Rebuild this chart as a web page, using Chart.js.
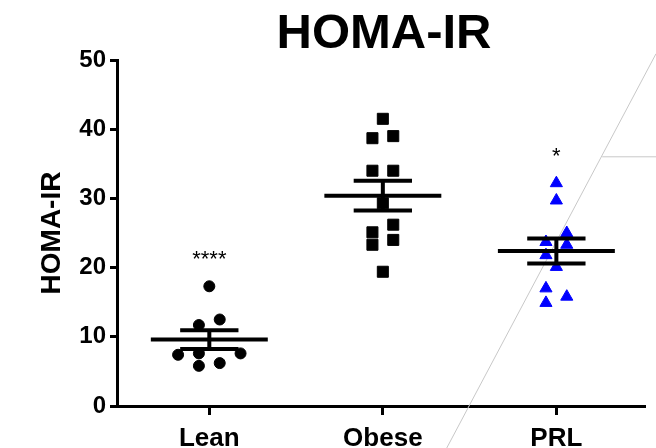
<!DOCTYPE html>
<html><head><meta charset="utf-8">
<script src="https://cdn.jsdelivr.net/npm/chart.js@4/dist/chart.umd.min.js"></script>
<style>html,body{margin:0;padding:0;background:#fff;}</style>
</head><body>
<canvas id="c" width="656" height="448"></canvas>
<script>
// ---- data ----
const categories = ['Lean', 'Obese', 'PRL'];
const leanValues  = [17.3, 12.5, 11.7, 7.4, 7.6, 7.6, 5.8, 6.2];
const leanJitter  = [0, 0.06, -0.06, -0.18, -0.06, 0.18, -0.06, 0.06];
const obeseValues = [41.5, 38.7, 39.0, 34.0, 34.0, 29.3, 26.2, 25.1, 24.0, 23.3, 19.4];
const obeseJitter = [0, -0.06, 0.06, -0.06, 0.06, 0, 0.06, -0.06, 0.06, -0.06, 0];
const prlValues   = [32.2, 29.7, 25.0, 23.3, 23.7, 21.8, 20.1, 17.0, 15.8, 14.9];
const prlJitter   = [0, 0, 0.06, 0.06, -0.06, -0.06, 0, -0.06, 0.06, -0.06];
const groupMeans  = [9.6, 30.4, 22.4];
const groupSEM    = [1.35, 2.15, 1.8];
const significance = ['****', '', '*'];
const yTicks = [0, 10, 20, 30, 40, 50];

const FONT = "'Liberation Sans', Arial, Helvetica, sans-serif";
Chart.defaults.font.family = FONT;
Chart.defaults.color = '#000';

function pointsDataset(vals, jit, i, style, color, r) {
  return {
    type: 'scatter',
    data: vals.map((v, k) => ({ x: i + jit[k], y: v })),
    pointStyle: style, pointRadius: r, pointHoverRadius: r,
    backgroundColor: color, borderColor: color, pointBorderWidth: 1,
    order: 2
  };
}

const barData = [];
groupMeans.forEach((m, i) => {
  const s = groupSEM[i];
  barData.push(
    { x: i - 0.337, y: m }, { x: i + 0.337, y: m }, { x: i, y: null },
    { x: i - 0.168, y: m + s }, { x: i + 0.168, y: m + s }, { x: i, y: null },
    { x: i - 0.168, y: m - s }, { x: i + 0.168, y: m - s }, { x: i, y: null },
    { x: i, y: m - s }, { x: i, y: m + s }, { x: i, y: null }
  );
});

const allGroups = [leanValues, obeseValues, prlValues];

const decor = {
  id: 'decor',
  beforeDatasetsDraw(chart) {
    const ctx = chart.ctx, W = chart.width, H = chart.height;
    ctx.save();
    ctx.strokeStyle = '#c8c8c8';
    ctx.lineWidth = 1;
    ctx.beginPath();
    ctx.moveTo(W * 0.681, H);
    ctx.lineTo(W, H * 0.12);
    ctx.moveTo(W * 0.918, H * 0.35);
    ctx.lineTo(W, H * 0.35);
    ctx.stroke();
    ctx.restore();
  },
  afterDatasetsDraw(chart) {
    const ctx = chart.ctx, xs = chart.scales.x, ys = chart.scales.y;
    ctx.save();
    ctx.fillStyle = '#000';
    ctx.font = '22px ' + FONT;
    ctx.textAlign = 'center';
    ctx.textBaseline = 'alphabetic';
    significance.forEach((t, i) => {
      if (!t) return;
      const top = Math.max(...allGroups[i]);
      ctx.fillText(t, xs.getPixelForValue(i), ys.getPixelForValue(top) - 20);
    });
    ctx.font = 'bold 49px ' + FONT;
    ctx.fillText('HOMA-IR', 384, 48);
    ctx.restore();
  }
};

new Chart(document.getElementById('c'), {
  data: {
    datasets: [
      {
        type: 'line', data: barData, borderColor: '#000', borderWidth: 4,
        pointRadius: 0, pointHoverRadius: 0, spanGaps: false, fill: false,
        borderCapStyle: 'butt', tension: 0, order: 0
      },
      pointsDataset(leanValues, leanJitter, 0, 'circle', '#000', 5.5),
      pointsDataset(obeseValues, obeseJitter, 1, 'rect', '#000', 7.8),
      pointsDataset(prlValues, prlJitter, 2, 'triangle', '#0000ff', 7)
    ]
  },
  options: {
    responsive: false, animation: false, devicePixelRatio: 1,
    layout: { padding: { top: 60, right: 12, left: 0, bottom: 0 } },
    plugins: { legend: { display: false }, tooltip: { enabled: false }, title: { display: false } },
    scales: {
      x: {
        type: 'linear', min: -0.532, max: 2.505,
        afterBuildTicks: s => { s.ticks = categories.map((c, i) => ({ value: i })); },
        ticks: {
          callback: v => categories[v], font: { size: 26, weight: 'bold' }, color: '#000',
          padding: 8, maxRotation: 0, autoSkip: false
        },
        grid: { display: true, drawOnChartArea: false, drawTicks: true, tickLength: 9, tickWidth: 3, tickColor: '#000', color: '#000', lineWidth: 3 },
        border: { display: true, width: 3, color: '#000' },
        afterFit: s => { s.height = 42; }
      },
      y: {
        type: 'linear', min: 0, max: 50,
        afterBuildTicks: s => { s.ticks = yTicks.map(v => ({ value: v })); },
        ticks: { font: { size: 24, weight: 'bold' }, color: '#000', padding: 4 },
        grid: { display: true, drawOnChartArea: false, drawTicks: true, tickLength: 7, tickWidth: 3, tickColor: '#000', color: '#000', lineWidth: 3 },
        border: { display: true, width: 3, color: '#000' },
        title: { display: true, text: 'HOMA-IR', font: { size: 28, weight: 'bold' }, color: '#000', padding: { top: 35, bottom: 0 } },
        afterFit: s => { s.width = 117; }
      }
    }
  },
  plugins: [decor]
});
</script>
</body></html>
